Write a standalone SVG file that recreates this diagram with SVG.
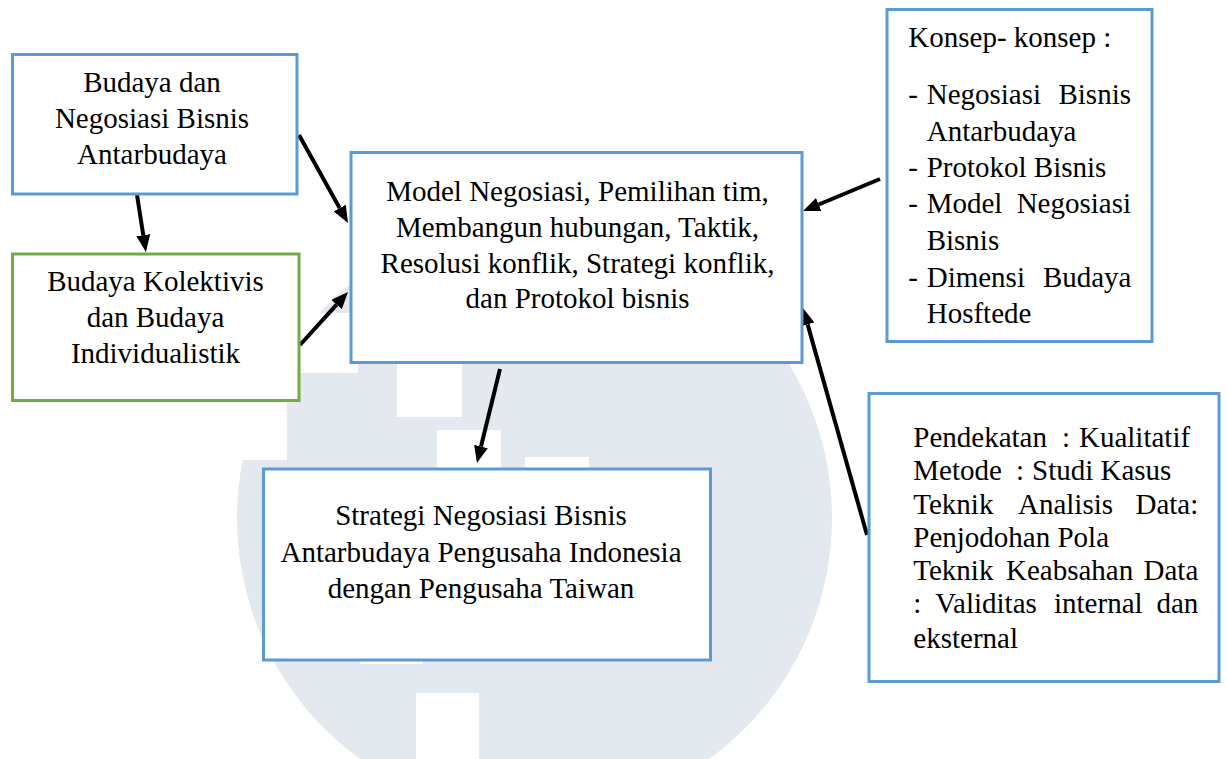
<svg xmlns="http://www.w3.org/2000/svg" width="1227" height="759" viewBox="0 0 1227 759">
<style>
.box{fill:#fff;stroke:#5b9bd5;stroke-width:3}
.gbox{fill:#fff;stroke:#70ad47;stroke-width:3}
.t{font-family:"Liberation Serif","Times New Roman",serif;font-size:29px;fill:#000}
.c{text-anchor:middle}
.e{text-anchor:end}
.arr{stroke:#000;stroke-width:4;fill:none;marker-end:url(#ah)}
.wm{fill:#fff}
</style>
<defs>
<marker id="ah" markerUnits="userSpaceOnUse" markerWidth="17" markerHeight="14" refX="0" refY="7" orient="auto">
<path d="M0,0 L17,7 L0,14 z" fill="#000"/>
</marker>
</defs>
<rect width="1227" height="759" fill="#fff"/>
<g id="watermark">
<circle cx="534.5" cy="518" r="297.5" fill="#e4e9ef"/>
<rect class="wm" x="397" y="355" width="65" height="62"/>
<rect class="wm" x="437" y="430" width="64" height="50"/>
<rect class="wm" x="525" y="457" width="64" height="30"/>
<rect class="wm" x="416" y="693" width="63" height="66"/>
<rect class="wm" x="294" y="313" width="64" height="60"/>
<rect class="wm" x="223" y="398" width="64" height="62"/>
<rect class="wm" x="360" y="600" width="63" height="64"/>
</g>
<g id="connectors">
<line class="arr" x1="137" y1="195" x2="143.3" y2="235.2"/>
<line class="arr" x1="299" y1="135" x2="339.7" y2="208.1"/>
<line class="arr" x1="300" y1="345" x2="336.6" y2="304.6"/>
<line class="arr" x1="880" y1="179" x2="818.7" y2="204.5"/>
<line class="arr" x1="867" y1="535" x2="807.6" y2="324.4"/>
<line class="arr" x1="500" y1="369" x2="481" y2="446.5"/>
</g>
<g id="node-budaya-negosiasi">
<rect class="box" x="12.5" y="54.5" width="284.5" height="139.5"/>
<text class="t c" x="152" y="92">Budaya dan</text>
<text class="t c" x="152" y="128">Negosiasi Bisnis</text>
<text class="t c" x="152" y="164">Antarbudaya</text>
</g>
<g id="node-budaya-kolektivis">
<rect class="gbox" x="12.5" y="254" width="286.5" height="146.5"/>
<text class="t c" x="155.5" y="291">Budaya Kolektivis</text>
<text class="t c" x="155.5" y="327">dan Budaya</text>
<text class="t c" x="155.5" y="363">Individualistik</text>
</g>
<g id="node-model">
<rect class="box" x="351" y="152.5" width="451" height="210"/>
<text class="t c" x="577.5" y="201">Model Negosiasi, Pemilihan tim,</text>
<text class="t c" x="577.5" y="237">Membangun hubungan, Taktik,</text>
<text class="t c" x="577.5" y="273">Resolusi konflik, Strategi konflik,</text>
<text class="t c" x="577.5" y="308">dan Protokol bisnis</text>
</g>
<g id="node-strategi">
<rect class="box" x="263.5" y="469" width="447" height="191"/>
<text class="t c" x="481" y="525">Strategi Negosiasi Bisnis</text>
<text class="t c" x="481" y="562">Antarbudaya Pengusaha Indonesia</text>
<text class="t c" x="481" y="598">dengan Pengusaha Taiwan</text>
</g>
<g id="node-konsep">
<rect class="box" x="887" y="9.5" width="265" height="332"/>
<text class="t" x="908.3" y="47">Konsep- konsep :</text>
<text class="t" y="104"><tspan x="908.3">-</tspan><tspan x="926.7">Negosiasi</tspan></text>
<text class="t e" x="1131" y="104">Bisnis</text>
<text class="t" x="926.7" y="141">Antarbudaya</text>
<text class="t" y="177"><tspan x="908.3">-</tspan><tspan x="926.7">Protokol Bisnis</tspan></text>
<text class="t" y="213"><tspan x="908.3">-</tspan><tspan x="926.7">Model</tspan></text>
<text class="t e" x="1131" y="213">Negosiasi</text>
<text class="t" x="926.7" y="250">Bisnis</text>
<text class="t" y="287"><tspan x="908.3">-</tspan><tspan x="926.7">Dimensi</tspan></text>
<text class="t e" x="1131.5" y="287">Budaya</text>
<text class="t" x="926.7" y="323">Hosftede</text>
</g>
<g id="node-metode">
<rect class="box" x="869" y="393.5" width="350" height="288"/>
<text class="t" y="447"><tspan x="913.3">Pendekatan</tspan><tspan x="1062">:</tspan><tspan x="1079">Kualitatif</tspan></text>
<text class="t" y="480"><tspan x="913.3">Metode</tspan><tspan x="1016">:</tspan><tspan x="1032">Studi Kasus</tspan></text>
<text class="t" y="514"><tspan x="913.3">Teknik</tspan><tspan x="1018">Analisis</tspan></text>
<text class="t e" x="1198.3" y="514">Data:</text>
<text class="t" x="913.3" y="547">Penjodohan Pola</text>
<text class="t" y="580"><tspan x="913.3">Teknik</tspan><tspan x="1006">Keabsahan</tspan></text>
<text class="t e" x="1198.3" y="580">Data</text>
<text class="t" y="613"><tspan x="913.3">:</tspan><tspan x="935.3">Validitas</tspan><tspan x="1054">internal</tspan></text>
<text class="t e" x="1198.3" y="613">dan</text>
<text class="t" x="913.3" y="648">eksternal</text>
</g>
</svg>
